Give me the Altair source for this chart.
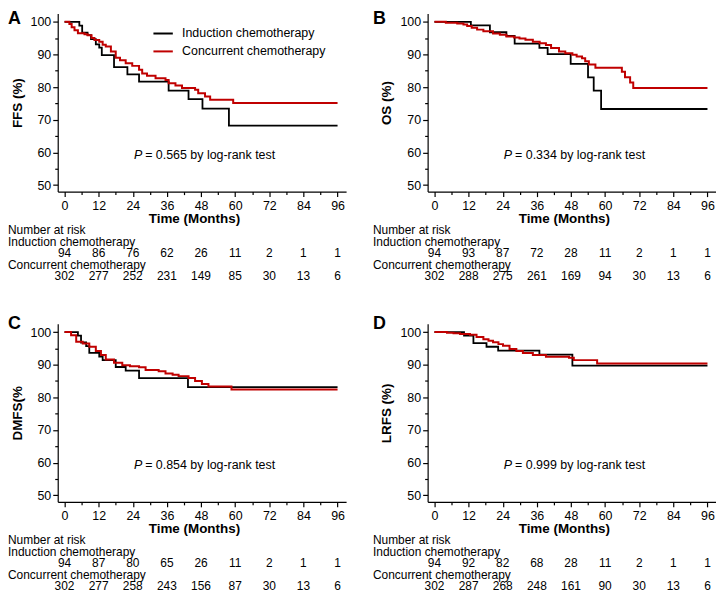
import altair as alt
import pandas as pd

GROUPS = ["Induction chemotherapy", "Concurrent chemotherapy"]
COLORS = ["#000000", "#c00000"]
RISK_TIMES = [0, 12, 24, 36, 48, 60, 72, 84, 96]
X_TICKS = [0, 6, 12, 18, 24, 30, 36, 42, 48, 54, 60, 66, 72, 78, 84, 90, 96]
Y_TICKS = [50, 55, 60, 65, 70, 75, 80, 85, 90, 95, 100]

# ---- Panel A: FFS ----
a_ind_t = [0, 5.2, 6.2, 8.1, 9.3, 11.0, 12.2, 13.1, 17.4, 22.1, 26.2, 36.6, 43.6, 48.5, 57.8, 96]
a_ind_v = [100, 98.8, 96.7, 95.9, 94.7, 93.1, 92.1, 89.8, 86.1, 83.9, 81.7, 78.9, 76.3, 73.4, 68.2, 68.2]
a_con_t = [0, 1.7, 2.5, 3.5, 4.7, 7.0, 8.1, 9.5, 10.5, 12.2, 13.4, 14.5, 16.3, 18.0, 19.5, 21.5, 23.8,
           26.2, 27.3, 29.0, 32.0, 35.5, 36.6, 39.0, 41.3, 45.9, 47.0, 49.4, 51.2, 59.3, 96]
a_con_v = [100, 99.3, 98.3, 97.4, 96.5, 96.2, 95.9, 95.0, 94.4, 93.9, 93.0, 92.4, 90.9, 89.0, 88.2, 87.3, 86.5,
           85.3, 84.2, 83.5, 82.7, 82.2, 81.2, 80.5, 79.7, 79.2, 78.1, 77.1, 76.1, 75.1, 75.1]

# ---- Panel B: OS ----
b_ind_t = [0, 12.8, 19.5, 25.3, 28.2, 36.9, 39.8, 47.9, 54.0, 56.0, 58.6, 96]
b_ind_v = [100, 98.9, 96.8, 95.7, 93.3, 92.0, 90.1, 87.1, 83.0, 78.9, 73.3, 73.3]
b_con_t = [0, 4.0, 8.0, 10.2, 11.5, 13.1, 15.0, 17.2, 20.6, 23.0, 25.3, 28.0, 29.9, 32.0, 34.6, 37.0,
           39.2, 41.0, 43.8, 46.0, 48.5, 50.0, 51.9, 53.0, 54.3, 56.6, 65.9, 67.0, 68.8, 69.9, 96]
b_con_v = [100, 99.7, 99.5, 99.2, 98.7, 98.2, 97.6, 97.1, 96.4, 96.0, 95.5, 95.2, 94.9, 94.5, 93.9, 93.4,
           92.9, 92.0, 90.9, 90.4, 89.9, 89.4, 88.8, 87.9, 86.9, 85.9, 84.7, 83.0, 81.4, 79.7, 79.7]

# ---- Panel C: DMFS ----
c_ind_t = [0, 4.7, 5.8, 7.6, 8.7, 12.2, 13.4, 18.0, 21.5, 26.2, 43.4, 96]
c_ind_v = [100, 98.9, 96.8, 95.7, 93.6, 92.5, 91.4, 89.3, 88.2, 85.9, 83.1, 83.1]
c_con_t = [0, 2.3, 4.1, 6.4, 8.7, 11.0, 12.8, 14.5, 17.4, 20.3, 23.0, 26.2, 28.5, 33.1, 35.5, 38.0,
           40.1, 43.6, 45.9, 48.3, 50.6, 58.7, 96]
c_con_v = [100, 99.0, 97.0, 96.5, 95.5, 94.2, 93.0, 91.6, 90.6, 89.8, 89.5, 89.2, 88.4, 88.0, 87.3, 86.9,
           86.5, 85.9, 85.0, 84.1, 83.3, 82.4, 82.4]

# ---- Panel D: LRFS ----
d_ind_t = [0, 10.4, 13.7, 18.3, 22.4, 36.9, 48.5, 96]
d_ind_v = [100, 98.9, 96.6, 95.5, 94.3, 93.1, 89.7, 89.7]
d_con_t = [0, 4.4, 6.7, 9.0, 12.5, 14.8, 17.2, 19.0, 20.6, 22.5, 24.1, 26.4, 28.8, 31.1, 34.6, 39.2,
           47.3, 49.0, 57.2, 96]
d_con_v = [100, 99.8, 99.6, 99.4, 99.2, 98.5, 97.8, 97.3, 96.9, 96.3, 95.8, 94.8, 94.2, 93.6, 93.0, 92.4,
           92.1, 91.4, 90.4, 90.4]

# ---- Numbers at risk ----
a_risk_ind = [94, 86, 76, 62, 26, 11, 2, 1, 1]
a_risk_con = [302, 277, 252, 231, 149, 85, 30, 13, 6]
b_risk_ind = [94, 93, 87, 72, 28, 11, 2, 1, 1]
b_risk_con = [302, 288, 275, 261, 169, 94, 30, 13, 6]
c_risk_ind = [94, 87, 80, 65, 26, 11, 2, 1, 1]
c_risk_con = [302, 277, 258, 243, 156, 87, 30, 13, 6]
d_risk_ind = [94, 92, 82, 68, 28, 11, 2, 1, 1]
d_risk_con = [302, 287, 268, 248, 161, 90, 30, 13, 6]

LETTERS = ["A", "B", "C", "D"]
Y_TITLES = ["FFS (%)", "OS (%)", "DMFS(%", "LRFS (%)"]
P_VALUES = ["0.565", "0.334", "0.854", "0.999"]
P_X, P_Y = 27.3, 59.2

W, H = 290, 179
FONT = "Liberation Sans"
TFS = 12


def panel(i, ind_t, ind_v, con_t, con_v, r_ind, r_con, left_col, top_row, show_legend):
    ind_df = pd.DataFrame({"t": ind_t, "s": ind_v, "g": GROUPS[0]})
    con_df = pd.DataFrame({"t": con_t, "s": con_v, "g": GROUPS[1]})

    x_enc = alt.X(
        "t:Q",
        scale=alt.Scale(domain=[-2.4, 99], nice=False, zero=False),
        title="Time (Months)",
        axis=alt.Axis(
            values=X_TICKS,
            labelExpr="datum.value % 12 == 0 ? datum.label : ''",
            tickSize={"condition": {"test": "datum.value % 12 == 0", "value": 5}, "value": 3},
            labelPadding=2.5,
            titlePadding=0,
            titleX=137,
            labelFlush=False,
            labelOverlap=False,
        ),
    )
    y_enc = alt.Y(
        "s:Q",
        scale=alt.Scale(domain=[48, 102.5], nice=False, zero=False),
        title=Y_TITLES[i],
        axis=alt.Axis(
            values=Y_TICKS,
            labelExpr="datum.value % 10 == 0 ? datum.label : ''",
            tickSize={"condition": {"test": "datum.value % 10 == 0", "value": 5}, "value": 3},
            labelPadding=2,
            titlePadding=6,
            labelOverlap=False,
        ),
    )
    if show_legend:
        legend = alt.Legend(
            orient="none", legendX=95, legendY=9, title=None,
            symbolType="stroke", symbolSize=380, symbolStrokeWidth=2,
            labelFontSize=12.5, labelOffset=8, padding=0, rowPadding=-3,
            labelFont=FONT, labelColor="black",
        )
    else:
        legend = None
    color = alt.Color("g:N", scale=alt.Scale(domain=GROUPS, range=COLORS), legend=legend)

    l_ind = alt.Chart(ind_df).mark_line(interpolate="step-after", strokeWidth=1.8).encode(
        x=x_enc, y=y_enc, color=color)
    l_con = alt.Chart(con_df).mark_line(interpolate="step-after", strokeWidth=2).encode(
        x=x_enc, y=y_enc, color=color)

    p_df = pd.DataFrame({"t": [P_X], "s": [P_Y], "p": ["P"],
                         "rest": ["= " + P_VALUES[i] + " by log-rank test"]})
    p1 = alt.Chart(p_df).mark_text(align="right", baseline="middle", fontStyle="italic",
                                   fontSize=12.5, font=FONT, color="black").encode(
        x=x_enc, y=y_enc, text="p:N")
    p2 = alt.Chart(p_df).mark_text(align="left", baseline="middle", dx=3,
                                   fontSize=12.5, font=FONT, color="black").encode(
        x=x_enc, y=y_enc, text="rest:N")

    ri = pd.DataFrame({"t": RISK_TIMES, "n": r_ind})
    rc = pd.DataFrame({"t": RISK_TIMES, "n": r_con})
    t_ind = alt.Chart(ri).mark_text(align="center", baseline="middle", fontSize=TFS,
                                    font=FONT, color="black").encode(
        x=x_enc, y=alt.value(H + 61.7), text="n:Q")
    t_con = alt.Chart(rc).mark_text(align="center", baseline="middle", fontSize=TFS,
                                    font=FONT, color="black").encode(
        x=x_enc, y=alt.value(H + 85), text="n:Q")

    lx = -50 if left_col else -55
    labels = []
    for txt, dy in [("Number at risk", 38.5), (GROUPS[0], 50.2), (GROUPS[1], 73.4)]:
        labels.append(
            alt.Chart(pd.DataFrame({"lab": [txt]})).mark_text(
                align="left", baseline="middle", fontSize=TFS, font=FONT, color="black"
            ).encode(x=alt.value(lx), y=alt.value(H + dy), text="lab:N")
        )
    letter = alt.Chart(pd.DataFrame({"lab": [LETTERS[i]]})).mark_text(
        align="left", baseline="alphabetic", fontSize=18, fontWeight="bold", font=FONT, color="black"
    ).encode(x=alt.value(lx), y=alt.value(10 if top_row else 5), text="lab:N")

    return alt.layer(l_ind, l_con, p1, p2, t_ind, t_con, *labels, letter).properties(width=W, height=H)


pa = panel(0, a_ind_t, a_ind_v, a_con_t, a_con_v, a_risk_ind, a_risk_con, True, True, True)
pb = panel(1, b_ind_t, b_ind_v, b_con_t, b_con_v, b_risk_ind, b_risk_con, False, True, False)
pc = panel(2, c_ind_t, c_ind_v, c_con_t, c_con_v, c_risk_ind, c_risk_con, True, False, False)
pd_ = panel(3, d_ind_t, d_ind_v, d_con_t, d_con_v, d_risk_ind, d_risk_con, False, False, False)

chart = alt.concat(
    pa, pb, pc, pd_, columns=2, spacing={"row": 133, "column": 82}, bounds="flush", padding=0
).resolve_scale(color="independent").configure_view(stroke=None).configure_axis(
    grid=False, domainColor="black", tickColor="black", labelColor="black", titleColor="black",
    labelFont=FONT, titleFont=FONT, labelFontSize=12.5, titleFontSize=13.5, titleFontWeight="bold",
    domainWidth=1.2, tickWidth=1.2,
)

chart.save("out.html", embed_options={"renderer": "svg", "actions": False})
